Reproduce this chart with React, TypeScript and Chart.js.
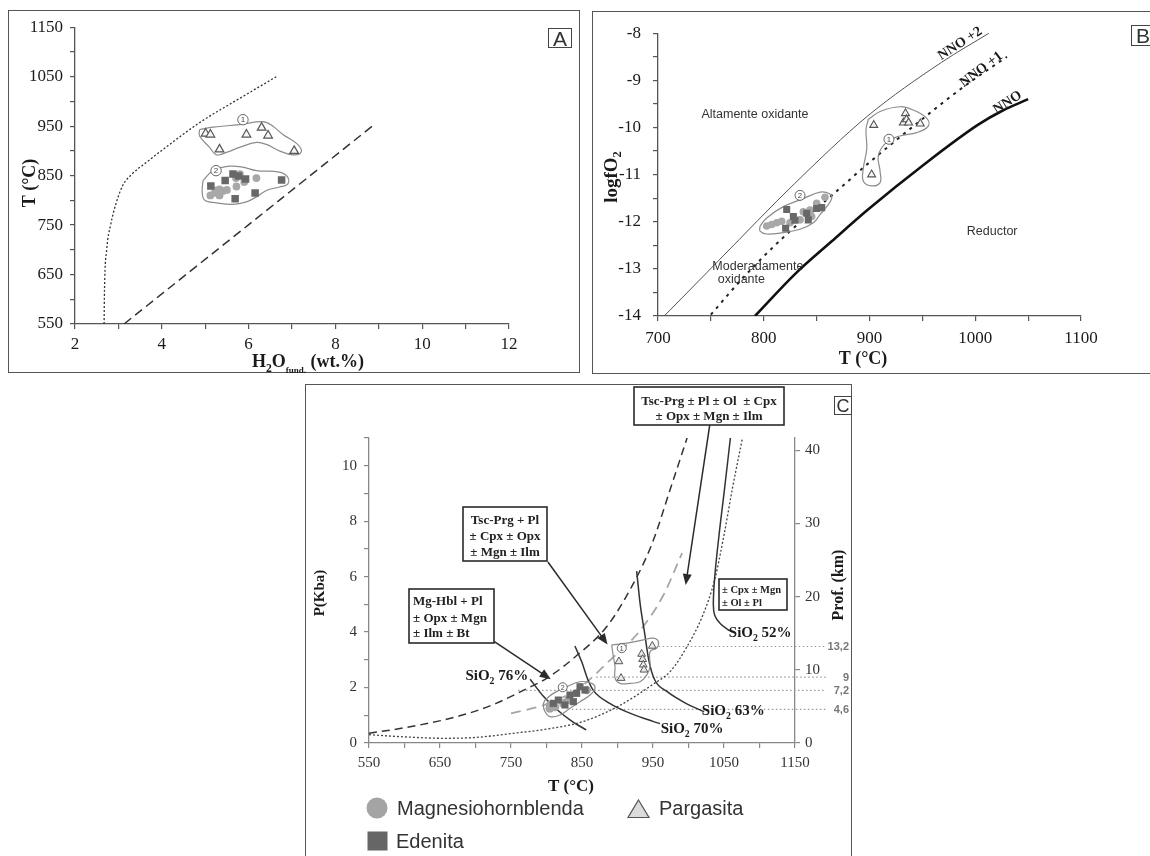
import React, { useEffect, useRef } from 'react';
import { Chart, registerables } from 'chart.js';

Chart.register(...registerables);

type Pt = [number, number];
const SERIF = '"Liberation Serif", "Times New Roman", serif';
const SANS = '"Liberation Sans", Arial, sans-serif';

// ================= Panel A : T (°C) vs H2O fund. (wt.%) =================
const aXTickLabels = [2, 4, 6, 8, 10, 12];
const aYTickLabels = [550, 650, 750, 850, 950, 1050, 1150];
const aPargasita: Pt[] = [[5.01, 935], [5.12, 933], [5.33, 903], [5.95, 933], [6.3, 947], [6.45, 931], [7.05, 900]];
const aMagnesio: Pt[] = [[5.12, 810], [5.26, 815], [5.33, 810], [5.41, 819], [5.5, 821], [5.72, 828], [5.71, 845], [5.9, 837], [6.18, 845], [5.8, 853], [5.23, 820], [5.33, 822]];
const aEdenita: Pt[] = [[5.13, 829], [5.46, 840], [5.64, 853], [5.77, 849], [5.93, 843], [5.69, 803], [6.15, 815], [6.76, 841]];
const aSaturationCurve: Pt[] = [[2.67, 550], [2.68, 620], [2.73, 700], [2.82, 750], [2.95, 795], [3.1, 830], [3.3, 852], [3.65, 877], [4.03, 903], [4.87, 957], [5.87, 1010], [6.64, 1050]];
const aDashedLine: Pt[] = [[3.13, 550], [8.85, 950]];
const aGroup1: Pt[] = [[4.87, 943], [5.18, 948], [5.79, 953], [6.33, 959], [6.56, 950], [6.79, 933], [7.13, 913], [7.21, 897], [7.02, 892], [6.71, 900], [6.41, 913], [6.18, 917], [5.79, 907], [5.49, 897], [5.26, 892], [5.1, 907], [4.87, 930], [4.87, 943]];
const aGroup2: Pt[] = [[4.95, 840], [5.18, 860], [5.56, 869], [5.87, 867], [6.18, 860], [6.71, 857], [6.9, 847], [6.9, 833], [6.71, 827], [6.41, 820], [6.18, 807], [5.95, 797], [5.64, 792], [5.26, 795], [4.99, 800], [4.93, 817], [4.95, 840]];
const aGroup1Label: Pt = [5.87, 963];
const aGroup2Label: Pt = [5.25, 860];

// ================= Panel B : logfO2 vs T (°C) =================
const bXTickLabels = [700, 800, 900, 1000, 1100];
const bYTickLabels = [-8, -9, -10, -11, -12, -13, -14];
const bPargasita: Pt[] = [[904, -9.95], [902, -11.0], [934, -9.7], [932, -9.9], [935, -9.83], [937, -9.9], [948, -9.92]];
const bMagnesio: Pt[] = [[802.8, -12.09], [807.5, -12.06], [812.2, -12.02], [817, -11.99], [824.8, -12.02], [834.3, -11.96], [837.4, -11.79], [843.7, -11.75], [850, -11.61], [857.9, -11.48], [845.3, -11.89]];
const bEdenita: Pt[] = [[821.7, -11.74], [828, -11.89], [829.5, -11.97], [820.7, -12.14], [840.6, -11.82], [842.1, -11.96], [850, -11.72], [854.8, -11.7]];
const bNNO2: Pt[] = [[705.9, -14], [759.7, -12.77], [829.2, -11.19], [898.6, -9.75], [968, -8.62], [1013, -8.0]];
const bNNO1: Pt[] = [[750, -13.97], [780, -13.2], [820, -12.3], [864, -11.45], [900, -10.74], [950, -9.82], [990, -9.12], [1030, -8.5]];
const bNNO: Pt[] = [[791.7, -14], [830, -13.1], [864, -12.42], [898.6, -11.74], [950.7, -10.8], [1002.8, -9.94], [1026, -9.64], [1050, -9.4]];
const bGroup1: Pt[] = [[898.9, -9.83], [910, -9.66], [928.8, -9.56], [941.4, -9.63], [954, -9.8], [955.6, -9.97], [944.6, -10.11], [928.8, -10.18], [916.3, -10.31], [908.4, -10.59], [910, -10.93], [910, -11.17], [902.1, -11.24], [894.2, -11.14], [894.2, -10.86], [897.4, -10.45], [896.7, -10.04], [898.9, -9.83]];
const bGroup2: Pt[] = [[796.5, -12.09], [802.8, -11.92], [818.5, -11.68], [837.4, -11.51], [853.2, -11.37], [862.6, -11.41], [864.2, -11.51], [859.5, -11.68], [853.2, -11.85], [846.9, -12.02], [834.3, -12.16], [818.5, -12.23], [802.8, -12.26], [796.5, -12.2], [796.5, -12.09]];
const bGroup1Label: Pt = [918.4, -10.25];
const bGroup2Label: Pt = [834.3, -11.44];

// ================= Panel C : P (Kba) vs T (°C) =================
const cXTickLabels = [550, 650, 750, 850, 950, 1050, 1150];
const cPTickLabels = [0, 2, 4, 6, 8, 10];
const cKmTickLabels = [0, 10, 20, 30, 40];
const KM_PER_KBAR = 3.79;
const cPargasita: Pt[] = [[949, 3.5], [902, 2.94], [905, 2.34], [934, 3.21], [935.4, 3.02], [936.3, 2.82], [937.3, 2.64]];
const cMagnesio: Pt[] = [[805, 1.37], [823.7, 1.43], [856.6, 1.91], [830.7, 1.55], [804.6, 1.25], [812, 1.3]];
const cEdenita: Pt[] = [[816.6, 1.55], [826, 1.37], [833, 1.73], [842.5, 1.79], [847.2, 2.03], [854.2, 1.91], [837.9, 1.49], [809.6, 1.43]];
const cLongDashed: Pt[] = [[550, 0.35], [600, 0.55], [655, 0.83], [700, 1.15], [729, 1.43], [773, 1.97], [802, 2.36], [841, 3.12], [885, 4.2], [920, 5.64], [949, 7.21], [974, 9.13], [998, 11.0]];
const cGrayDashed: Pt[] = [[750, 1.07], [800, 1.4], [847, 2.0], [890, 3.0], [930, 4.0], [964, 5.3], [991, 6.85]];
const cDotted: Pt[] = [[550, 0.3], [600, 0.22], [655, 0.17], [700, 0.2], [753, 0.35], [800, 0.5], [851, 0.77], [900, 1.31], [949, 2.1], [975, 2.6], [998, 3.48], [1020, 4.6], [1037, 5.9], [1050, 7.5], [1062, 9.2], [1076, 11]];
const cSiO2_52: Pt[] = [[1059, 11], [1050, 9], [1043, 7.5], [1037, 6], [1035, 5], [1037, 4.6], [1045, 4.3], [1055, 4.1], [1062, 4.0]];
const cSiO2_63: Pt[] = [[927, 6.2], [932, 5.0], [938, 4.0], [944, 3.0], [952, 2.3], [970, 1.85], [995, 1.45], [1022, 1.13]];
const cSiO2_70: Pt[] = [[840, 3.5], [850, 2.9], [858, 2.3], [866, 1.9], [889, 1.43], [920, 1.05], [950, 0.78], [960, 0.7]];
const cSiO2_76: Pt[] = [[777, 2.3], [795, 1.7], [815, 1.2], [835, 0.8], [856, 0.47]];
const cGroup1: Pt[] = [[891.8, 3.54], [913, 3.6], [936.3, 3.72], [950.4, 3.78], [957.5, 3.66], [955.2, 3.42], [945.8, 3.3], [945.8, 2.75], [941.1, 2.45], [931.7, 2.21], [917.6, 2.15], [903.5, 2.15], [896.5, 2.34], [896.5, 2.75], [894.1, 3.12], [891.8, 3.54]];
const cGroup2: Pt[] = [[797.9, 1.55], [809.6, 1.79], [828.5, 2.03], [847.2, 2.21], [863.7, 2.15], [868.3, 1.97], [861.3, 1.73], [847.2, 1.49], [833.1, 1.25], [819, 1.01], [804.9, 0.95], [797.9, 1.13], [795.5, 1.37], [797.9, 1.55]];
const cGroup1Label: Pt = [906, 3.42];
const cGroup2Label: Pt = [822.8, 2.01];
const cDepthKm = [13.2, 9, 7.2, 4.6];
const cDepthText = ['13,2', '9', '7,2', '4,6'];
const cDepthStartT = [958, 870, 760, 830];
const cArrowTop: Pt[] = [[1030, 11.48], [996, 5.7]];
const cArrowMid: Pt[] = [[802, 6.53], [886, 3.55]];
const cArrowLeft: Pt[] = [[726.6, 3.66], [806, 2.3]];
const cSiO2Labels = ['76%', '70%', '63%', '52%'];
const cSiO2LabelPos: Pt[] = [[730, 2.45], [1005, 0.54], [1063, 1.19], [1101, 4.0]];
const legendNames = ['Magnesiohornblenda', 'Pargasita', 'Edenita'];

// ================= helpers =================
const pts = (a: Pt[]) => a.map(([x, y]) => ({ x, y }));

type Seg = [string, number?, number?];
function drawRich(ctx: CanvasRenderingContext2D, x: number, y: number, segs: Seg[], size: number, o: any = {}) {
  const bold = o.bold ?? true;
  const family = o.family ?? SERIF;
  ctx.save();
  ctx.translate(x, y);
  if (o.rotate) ctx.rotate((o.rotate * Math.PI) / 180);
  ctx.fillStyle = o.color ?? '#1a1a1a';
  ctx.textBaseline = 'alphabetic';
  ctx.textAlign = 'left';
  const fontOf = (s: number) => `${bold ? 'bold ' : ''}${s}px ${family}`;
  let total = 0;
  for (const [t, sc = 1] of segs) {
    ctx.font = fontOf(size * sc);
    total += ctx.measureText(t).width;
  }
  let cx = o.align === 'left' ? 0 : o.align === 'right' ? -total : -total / 2;
  const base = size * 0.35;
  for (const [t, sc = 1, dy = 0] of segs) {
    ctx.font = fontOf(size * sc);
    ctx.fillText(t, cx, base + dy * size);
    cx += ctx.measureText(t).width;
  }
  ctx.restore();
}

function circled(ctx: CanvasRenderingContext2D, x: number, y: number, d: string, r: number) {
  ctx.save();
  ctx.beginPath();
  ctx.arc(x, y, r, 0, Math.PI * 2);
  ctx.fillStyle = '#fff';
  ctx.fill();
  ctx.strokeStyle = '#555';
  ctx.lineWidth = 0.9;
  ctx.stroke();
  ctx.fillStyle = '#444';
  ctx.font = `${r * 1.55}px ${SANS}`;
  ctx.textAlign = 'center';
  ctx.textBaseline = 'middle';
  ctx.fillText(d, x, y + 0.5);
  ctx.restore();
}

function arrow(ctx: CanvasRenderingContext2D, x1: number, y1: number, x2: number, y2: number) {
  const ang = Math.atan2(y2 - y1, x2 - x1);
  const L = 11, W = 4.5;
  ctx.save();
  ctx.strokeStyle = '#2a2a2a';
  ctx.fillStyle = '#2a2a2a';
  ctx.lineWidth = 1.5;
  ctx.beginPath();
  ctx.moveTo(x1, y1);
  ctx.lineTo(x2 - Math.cos(ang) * L * 0.8, y2 - Math.sin(ang) * L * 0.8);
  ctx.stroke();
  ctx.beginPath();
  ctx.moveTo(x2, y2);
  ctx.lineTo(x2 - Math.cos(ang) * L + Math.sin(ang) * W, y2 - Math.sin(ang) * L - Math.cos(ang) * W);
  ctx.lineTo(x2 - Math.cos(ang) * L - Math.sin(ang) * W, y2 - Math.sin(ang) * L + Math.cos(ang) * W);
  ctx.closePath();
  ctx.fill();
  ctx.restore();
}

function textBox(ctx: CanvasRenderingContext2D, x: number, y: number, w: number, h: number, lines: string[], lineY: number[], size: number, align: 'left' | 'center', tx: number) {
  ctx.save();
  ctx.fillStyle = '#fff';
  ctx.fillRect(x, y, w, h);
  ctx.strokeStyle = '#2a2a2a';
  ctx.lineWidth = 1.6;
  ctx.strokeRect(x, y, w, h);
  ctx.restore();
  lines.forEach((t, i) => drawRich(ctx, tx, lineY[i], [[t]], size, { align, color: '#222' }));
}

const scatterSet = (data: Pt[], style: string, r: number, bg: string, border: string, bw: number) => ({
  data: pts(data), pointStyle: style, pointRadius: r, backgroundColor: bg, borderColor: border, borderWidth: bw, showLine: false,
});
const lineSet = (data: Pt[], color: string, width: number, dash: number[], mono: boolean) => ({
  data: pts(data), showLine: true, pointRadius: 0, borderColor: color, borderWidth: width, borderDash: dash, fill: false,
  tension: 0.4, cubicInterpolationMode: mono ? 'monotone' : 'default',
});
const outlineSet = (data: Pt[]) => lineSet(data, '#8c8c8c', 1.2, [], false);

function axis(min: number, max: number, step: number, labels: number[], fontSize: number, color: string, lineColor: string, pad: number, fit: (s: any) => void, extra: any = {}) {
  return {
    type: 'linear', min, max,
    afterFit: fit,
    ticks: {
      stepSize: step, autoSkip: false, maxRotation: 0, padding: pad,
      callback: (v: number) => (labels.some((l) => Math.abs(l - v) < 1e-6) ? String(v) : ''),
      font: { family: SERIF, size: fontSize }, color,
    },
    grid: { display: true, drawOnChartArea: false, drawTicks: true, tickLength: 5, color: lineColor, lineWidth: 1.2 },
    border: { display: true, color: lineColor, width: 1.3 },
    ...extra,
  };
}

const baseOptions = (padding: any) => ({
  responsive: false, animation: false, events: [],
  layout: { padding },
  plugins: { legend: { display: false }, tooltip: { enabled: false } },
});

export default function App() {
  const refA = useRef<HTMLCanvasElement>(null);
  const refB = useRef<HTMLCanvasElement>(null);
  const refC = useRef<HTMLCanvasElement>(null);

  useEffect(() => {
    const charts: Chart[] = [];

    // ---------- A ----------
    const aPlugin = {
      id: 'aDeco',
      afterDatasetsDraw(chart: any) {
        const ctx = chart.ctx, X = (v: number) => chart.scales.x.getPixelForValue(v), Y = (v: number) => chart.scales.y.getPixelForValue(v);
        circled(ctx, X(aGroup1Label[0]), Y(aGroup1Label[1]), '1', 5.2);
        circled(ctx, X(aGroup2Label[0]), Y(aGroup2Label[1]), '2', 5.2);
      },
      afterDraw(chart: any) {
        const ctx = chart.ctx;
        drawRich(ctx, 21, 173, [['T (°C)']], 18, { rotate: -90 });
        drawRich(ctx, 300, 351, [['H'], ['2', 0.65, 0.25], ['O'], ['fund.', 0.5, 0.3], [' (wt.%)']], 18);
      },
    };
    charts.push(new Chart(refA.current!, {
      type: 'scatter',
      data: {
        datasets: [
          scatterSet(aPargasita, 'triangle', 5, '#f5f5f5', '#555', 1.2),
          scatterSet(aEdenita, 'rect', 5.3, '#686868', '#686868', 0),
          scatterSet(aMagnesio, 'circle', 3.9, '#a8a8a8', '#a8a8a8', 0),
          outlineSet(aGroup1),
          outlineSet(aGroup2),
          lineSet(aSaturationCurve, '#333', 1.3, [2, 2], true),
          lineSet(aDashedLine, '#333', 1.5, [9, 5], false),
        ] as any,
      },
      options: {
        ...baseOptions({ top: 15, right: 71, left: 0, bottom: 0 }),
        scales: {
          x: axis(2, 12, 1, aXTickLabels, 17, '#1a1a1a', '#555', 5, (s: any) => { s.height = 49; }),
          y: axis(550, 1150, 50, aYTickLabels, 17, '#1a1a1a', '#555', 7, (s: any) => { s.width = 67; }),
        },
      } as any,
      plugins: [aPlugin],
    }));

    // ---------- B ----------
    const bPlugin = {
      id: 'bDeco',
      afterDatasetsDraw(chart: any) {
        const ctx = chart.ctx, X = (v: number) => chart.scales.x.getPixelForValue(v), Y = (v: number) => chart.scales.y.getPixelForValue(v);
        circled(ctx, X(bGroup1Label[0]), Y(bGroup1Label[1]), '1', 5);
        circled(ctx, X(bGroup2Label[0]), Y(bGroup2Label[1]), '2', 5);
        const sans = { bold: false, family: SANS, color: '#333' };
        drawRich(ctx, X(791.7), Y(-9.71), [['Altamente oxidante']], 12.5, sans);
        drawRich(ctx, X(794.4), Y(-12.94), [['Moderadamente']], 12.5, sans);
        drawRich(ctx, X(778.8), Y(-13.21), [['oxidante']], 12.5, sans);
        drawRich(ctx, X(1016), Y(-12.18), [['Reductor']], 12.5, sans);
        drawRich(ctx, X(985), Y(-8.2), [['NNO +2']], 14, { rotate: -33 });
        drawRich(ctx, X(1005), Y(-8.75), [['NNO +1']], 14, { rotate: -37 });
        drawRich(ctx, X(1030), Y(-9.45), [['NNO']], 14, { rotate: -33 });
      },
      afterDraw(chart: any) {
        const ctx = chart.ctx;
        drawRich(ctx, 18, 166, [['logfO'], ['2', 0.65, 0.25]], 19, { rotate: -90 });
        drawRich(ctx, 271, 347, [['T (°C)']], 18);
      },
    };
    charts.push(new Chart(refB.current!, {
      type: 'scatter',
      data: {
        datasets: [
          scatterSet(bPargasita, 'triangle', 4.6, '#f5f5f5', '#555', 1.1),
          scatterSet(bEdenita, 'rect', 5, '#686868', '#686868', 0),
          scatterSet(bMagnesio, 'circle', 3.8, '#a8a8a8', '#a8a8a8', 0),
          outlineSet(bGroup1),
          outlineSet(bGroup2),
          lineSet(bNNO2, '#555', 1, [], true),
          lineSet(bNNO1, '#222', 2, [3, 5], true),
          lineSet(bNNO, '#111', 2.6, [], true),
        ] as any,
      },
      options: {
        ...baseOptions({ top: 13, right: 69, left: 0, bottom: 0 }),
        scales: {
          x: axis(700, 1100, 50, bXTickLabels, 17, '#1a1a1a', '#555', 7, (s: any) => { s.height = 58; }),
          y: axis(-14, -8, 0.5, bYTickLabels, 17, '#1a1a1a', '#555', 12, (s: any) => { s.width = 66; }),
        },
      } as any,
      plugins: [bPlugin],
    }));

    // ---------- C ----------
    const cPlugin = {
      id: 'cDeco',
      beforeDatasetsDraw(chart: any) {
        const ctx = chart.ctx, X = (v: number) => chart.scales.x.getPixelForValue(v), K = (v: number) => chart.scales.y2.getPixelForValue(v);
        ctx.save();
        ctx.strokeStyle = '#9a9a9a';
        ctx.lineWidth = 1.1;
        ctx.setLineDash([1.5, 2.5]);
        cDepthKm.forEach((km, i) => {
          ctx.beginPath();
          ctx.moveTo(X(cDepthStartT[i]), K(km));
          ctx.lineTo(chart.chartArea.right + 31, K(km));
          ctx.stroke();
        });
        ctx.restore();
      },
      afterDatasetsDraw(chart: any) {
        const ctx = chart.ctx, X = (v: number) => chart.scales.x.getPixelForValue(v), Y = (v: number) => chart.scales.y.getPixelForValue(v), K = (v: number) => chart.scales.y2.getPixelForValue(v);
        circled(ctx, X(cGroup1Label[0]), Y(cGroup1Label[1]), '1', 4.5);
        circled(ctx, X(cGroup2Label[0]), Y(cGroup2Label[1]), '2', 4.5);
        [cArrowTop, cArrowMid, cArrowLeft].forEach((a) => arrow(ctx, X(a[0][0]), Y(a[0][1]), X(a[1][0]), Y(a[1][1])));
        textBox(ctx, 329, 3, 150, 38, ['Tsc-Prg ± Pl ± Ol  ± Cpx', '± Opx ± Mgn ± Ilm'], [16, 31], 13, 'center', 404);
        textBox(ctx, 158, 123, 84, 54, ['Tsc-Prg + Pl', '± Cpx ± Opx', '± Mgn ± Ilm'], [135, 151, 167], 13, 'center', 200);
        textBox(ctx, 104, 205, 85, 54, ['Mg-Hbl + Pl', '± Opx ± Mgn', '± Ilm ± Bt'], [216, 233, 248], 13, 'left', 108);
        textBox(ctx, 414, 195, 68, 31, ['± Cpx ± Mgn', '± Ol ± Pl'], [205, 218], 10.5, 'left', 417);
        cSiO2Labels.forEach((t, i) => {
          drawRich(ctx, X(cSiO2LabelPos[i][0]), Y(cSiO2LabelPos[i][1]), [['SiO'], ['2', 0.65, 0.25], [' ' + t]], 15);
        });
        cDepthText.forEach((t, i) => {
          drawRich(ctx, 544, K(cDepthKm[i]), [[t]], 11, { bold: true, family: SANS, color: '#777', align: 'right' });
        });
      },
      afterDraw(chart: any) {
        const ctx = chart.ctx;
        drawRich(ctx, 266, 401, [['T (°C)']], 17);
        drawRich(ctx, 14, 209, [['P(Kba)']], 15, { rotate: -90 });
        drawRich(ctx, 532, 201, [['Prof. (km)']], 16, { rotate: -90 });
        // legend
        ctx.save();
        ctx.fillStyle = '#a4a4a4';
        ctx.beginPath();
        ctx.arc(72, 424, 10.5, 0, Math.PI * 2);
        ctx.fill();
        ctx.fillStyle = '#dcdcdc';
        ctx.strokeStyle = '#555';
        ctx.lineWidth = 1.2;
        ctx.beginPath();
        ctx.moveTo(333.5, 416);
        ctx.lineTo(344, 433.5);
        ctx.lineTo(323, 433.5);
        ctx.closePath();
        ctx.fill();
        ctx.stroke();
        ctx.fillStyle = '#666';
        ctx.fillRect(62.5, 447.5, 20, 19);
        ctx.restore();
        const lg = { bold: false, family: SANS, color: '#333', align: 'left' };
        drawRich(ctx, 92, 424, [[legendNames[0]]], 20, lg);
        drawRich(ctx, 354, 424, [[legendNames[1]]], 20, lg);
        drawRich(ctx, 91, 457, [[legendNames[2]]], 20, lg);
      },
    };
    charts.push(new Chart(refC.current!, {
      type: 'scatter',
      data: {
        datasets: [
          scatterSet(cPargasita, 'triangle', 4.5, '#e8e8e8', '#555', 1),
          scatterSet(cEdenita, 'rect', 5, '#666', '#666', 0),
          scatterSet(cMagnesio, 'circle', 4.3, '#a4a4a4', '#a4a4a4', 0),
          outlineSet(cGroup1),
          outlineSet(cGroup2),
          lineSet(cSiO2_52, '#333', 1.5, [], false),
          lineSet(cSiO2_63, '#333', 1.5, [], true),
          lineSet(cSiO2_70, '#333', 1.5, [], true),
          lineSet(cSiO2_76, '#333', 1.5, [], true),
          lineSet(cLongDashed, '#333', 1.5, [8, 5], true),
          lineSet(cGrayDashed, '#a6a6a6', 1.8, [10, 6], true),
          lineSet(cDotted, '#444', 1.3, [2, 2], true),
        ] as any,
      },
      options: {
        ...baseOptions({ top: 54, right: 0, left: 0, bottom: 73 }),
        scales: {
          x: axis(550, 1150, 50, cXTickLabels, 15, '#333', '#888', 6, (s: any) => { s.height = 40; }),
          y: axis(0, 11, 1, cPTickLabels, 15, '#333', '#888', 7, (s: any) => { s.width = 64; }),
          y2: axis(0, 11 * KM_PER_KBAR, 10, cKmTickLabels, 15, '#333', '#888', 5, (s: any) => { s.width = 56; }, {
            position: 'right',
            afterBuildTicks: (s: any) => { s.ticks = cKmTickLabels.map((v) => ({ value: v })); },
          }),
        },
      } as any,
      plugins: [cPlugin],
    }));

    return () => charts.forEach((c) => c.destroy());
  }, []);

  const abs = (l: number, t: number, w: number, h: number): React.CSSProperties => ({ position: 'absolute', left: l, top: t, width: w, height: h });
  const frame = (l: number, t: number, w: number, h: number): React.CSSProperties => ({ ...abs(l, t, w, h), border: '1.5px solid #555', boxSizing: 'border-box' });
  const letterBox = (l: number, t: number, w: number, h: number, size: number): React.CSSProperties => ({
    ...abs(l, t, w, h), border: '1px solid #444', boxSizing: 'border-box', display: 'flex', alignItems: 'center', justifyContent: 'center',
    fontFamily: SANS, fontSize: size, lineHeight: 1, color: '#333', background: '#fff',
  });

  return (
    <div style={{ position: 'absolute', left: 0, top: 0, width: 1150, height: 856, overflow: 'hidden', background: '#fff' }}>
      <div style={frame(8, 10, 572, 363)} />
      <div style={frame(592, 11, 600, 363)} />
      <div style={frame(305, 384, 547, 520)} />
      <canvas ref={refA} width={572} height={363} style={abs(8, 10, 572, 363)} />
      <canvas ref={refB} width={558} height={363} style={abs(592, 11, 558, 363)} />
      <canvas ref={refC} width={546} height={472} style={abs(305, 384, 546, 472)} />
      <div style={letterBox(548, 28, 24, 20, 21)}>A</div>
      <div style={letterBox(1131, 25, 24, 21, 21)}>B</div>
      <div style={letterBox(834, 396, 18, 19, 18)}>C</div>
    </div>
  );
}
